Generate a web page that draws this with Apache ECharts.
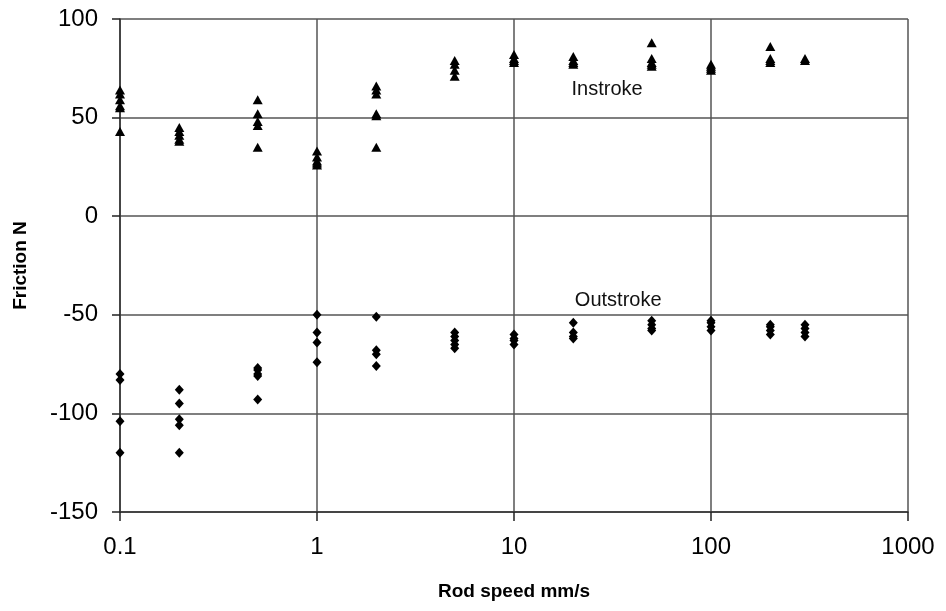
<!DOCTYPE html>
<html><head><meta charset="utf-8">
<script src="https://cdn.jsdelivr.net/npm/echarts@6/dist/echarts.min.js"></script>
<style>html,body{margin:0;padding:0;background:#fff}#c{width:946px;height:611px}</style>
</head><body><div id="c"></div>
<script>
const speeds = [0.1, 0.2, 0.5, 1, 2, 5, 10, 20, 50, 100, 200, 300];
const instroke = [
  [64, 62, 59, 56, 55, 43],
  [45, 43, 41, 39, 38],
  [59, 52, 48, 46, 35],
  [33, 30, 28, 27, 26],
  [66, 64, 62, 52, 51, 35],
  [79, 77, 74, 71],
  [82, 80, 79, 78],
  [81, 79, 78, 77],
  [88, 80, 78, 77, 76],
  [77, 76, 75, 74],
  [86, 80, 79, 78],
  [80, 79]
];
const outstroke = [
  [-80, -83, -104, -120],
  [-88, -95, -103, -106, -120],
  [-77, -78, -80, -81, -93],
  [-50, -59, -64, -74],
  [-51, -68, -70, -76],
  [-59, -61, -63, -65, -67],
  [-60, -62, -63, -65],
  [-54, -59, -61, -62],
  [-53, -55, -57, -58],
  [-53, -54, -56, -58],
  [-55, -56, -58, -60],
  [-55, -57, -59, -61]
];
const yTicks = [-150, -100, -50, 0, 50, 100];
const xTicks = [0.1, 1, 10, 100, 1000];
const annotationText = ['Instroke', 'Outstroke'];
const annotationX = [29.7, 33.8];
const annotationY = [64.5, -42.5];

function flatten(groups) {
  const out = [];
  groups.forEach((g, i) => g.forEach(v => out.push([speeds[i], v])));
  return out;
}

const font = 'Liberation Sans, Arial, sans-serif';
const chart = echarts.init(document.getElementById('c'));
chart.setOption({
  animation: false,
  textStyle: {fontFamily: font},
  grid: {left: 120, right: 38, top: 19, bottom: 99, containLabel: false},
  xAxis: {
    type: 'log', logBase: 10, min: xTicks[0], max: xTicks[xTicks.length - 1],
    name: 'Rod speed mm/s', nameLocation: 'middle', nameGap: 70,
    nameTextStyle: {fontSize: 19, fontWeight: 'bold', color: '#000', fontFamily: font},
    axisLine: {show: true, onZero: false, lineStyle: {color: '#333', width: 1.5}},
    axisTick: {show: true, inside: false, length: 9, lineStyle: {color: '#222', width: 1.5}},
    axisLabel: {fontSize: 24, color: '#000', margin: 23,
      formatter: v => String(Number(v.toPrecision(6))), showMinLabel: true, showMaxLabel: true},
    splitLine: {show: true, lineStyle: {color: '#555', width: 1.5}}
  },
  yAxis: {
    type: 'value', min: yTicks[0], max: yTicks[yTicks.length - 1], interval: 50,
    name: 'Friction N', nameLocation: 'middle', nameGap: 90,
    nameTextStyle: {fontSize: 19, fontWeight: 'bold', color: '#000', fontFamily: font},
    axisLine: {show: true, onZero: false, lineStyle: {color: '#333', width: 1.5}},
    axisTick: {show: true, inside: false, length: 8, lineStyle: {color: '#222', width: 1.5}},
    axisLabel: {fontSize: 24, color: '#000', margin: 22},
    splitLine: {show: true, lineStyle: {color: '#555', width: 1.5}}
  },
  series: [
    {
      name: 'Instroke', type: 'scatter', symbol: 'triangle', symbolSize: [10, 9],
      itemStyle: {color: '#000', opacity: 1}, data: flatten(instroke)
    },
    {
      name: 'Outstroke', type: 'scatter', symbol: 'diamond', symbolSize: [9, 10],
      itemStyle: {color: '#000', opacity: 1}, data: flatten(outstroke)
    },
    {
      name: 'labels', type: 'scatter', symbolSize: 0, silent: true,
      itemStyle: {color: '#000', opacity: 1},
      label: {show: true, position: 'inside', formatter: p => p.data[2], fontSize: 20,
        color: '#111', opacity: 1, textBorderWidth: 0, fontFamily: font},
      data: annotationText.map((t, i) => [annotationX[i], annotationY[i], t])
    }
  ]
});
</script></body></html>
